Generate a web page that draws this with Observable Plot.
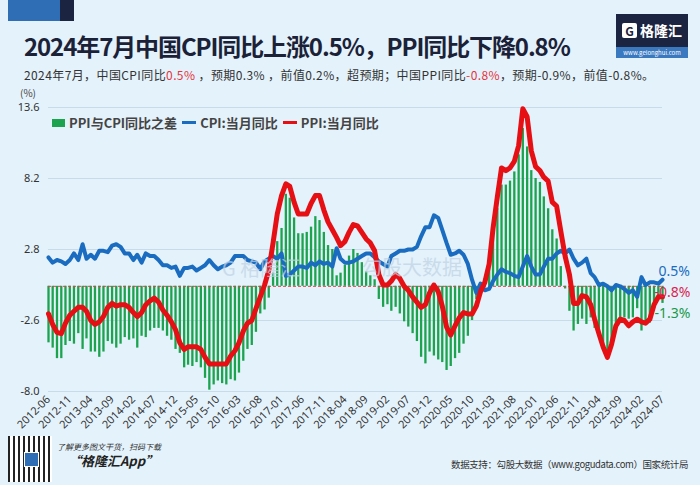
<!DOCTYPE html>
<html>
<head>
<meta charset="utf-8">
<script src="https://cdn.jsdelivr.net/npm/d3@7"></script>
<script src="https://cdn.jsdelivr.net/npm/@observablehq/plot@0.6"></script>
<style>
  html, body { margin:0; padding:0; }
  body { width:700px; height:485px; background:#e4f2fb; position:relative; overflow:hidden;
         font-family:"Noto Sans CJK SC","Noto Sans",sans-serif; color:#333; }
  .abs { position:absolute; white-space:nowrap; }
  #title { left:24px; top:28px; font-size:24px; font-weight:700; color:#1b2238; letter-spacing:-1.1px; }
  #sub { left:24px; top:66px; font-size:12px; color:#333; letter-spacing:0.4px; }
  #sub .r { color:#e8323c; }
  #unit { left:20px; top:85px; font-size:10px; color:#444; }
  #chart { position:absolute; left:0; top:100px; }
  #legend { left:52px; top:113px; font-size:13px; font-weight:700; color:#444; display:flex; align-items:center; }
  #legend .sw { display:inline-block; margin-right:4px; }
  #legend .it { display:flex; align-items:center; margin-right:5px; }
  .wm { color:#bfd2e4; opacity:0.7; font-size:20px; }
</style>
</head>
<body>
<div class="abs" style="left:8px;top:0;width:52px;height:21px;background:#2f6db5"></div>
<div class="abs" style="left:60px;top:0;width:14px;height:21px;background:#1b2440"></div>
<div class="abs" style="left:616px;top:14px;width:72px;height:44px;background:#1b2440">
  <div style="position:absolute;left:0;top:6px;width:72px;text-align:center;color:#fff;font-weight:700;font-size:14px;">
    <span style="display:inline-block;background:#fff;color:#1b2440;font-size:12px;line-height:15px;width:15px;border-radius:2px;margin-right:3px;">G</span>格隆汇</div>
  <div style="position:absolute;left:0;bottom:0;width:72px;height:11px;background:#3a78c0;color:#fff;font-size:6px;line-height:11px;text-align:center;">www.gelonghui.com</div>
</div>
<div id="title" class="abs">2024年7月中国CPI同比上涨0.5%，PPI同比下降0.8%</div>
<div id="sub" class="abs">2024年7月，中国CPI同比<span class="r">0.5%</span> ，预期0.3% ，前值0.2%，超预期；中国PPI同比<span class="r">-0.8%</span>，预期-0.9%，前值-0.8%。</div>
<div id="unit" class="abs">(%)</div>
<div id="chart"></div>
<div class="abs wm" style="left:222px;top:253px;">G 格隆汇</div>
<div class="abs wm" style="left:362px;top:252px;">勾股大数据</div>
<div id="legend" class="abs">
  <span class="it"><span class="sw" style="width:13px;height:8px;background:#1ba34e"></span>PPI与CPI同比之差</span>
  <span class="it"><span class="sw" style="width:14px;height:3px;background:#1a6cc0"></span>CPI:当月同比</span>
  <span class="it"><span class="sw" style="width:14px;height:3px;background:#e60f14"></span>PPI:当月同比</span>
</div>
<div class="abs" style="left:8px;top:436px;width:44px;height:46px;background:#fff;
  background-image:repeating-linear-gradient(90deg,#222 0 2px,transparent 2px 5px),repeating-linear-gradient(0deg,#fff 0 2px,transparent 2px 4px);"></div>
<div class="abs" style="left:24px;top:452px;width:13px;height:13px;background:#2f6db5;border:1px solid #fff"></div>
<div class="abs" style="left:57px;top:441px;font-size:8px;font-style:italic;color:#333;">了解更多图文干货，扫码下载</div>
<div class="abs" style="left:68px;top:451px;font-size:13px;font-style:italic;font-weight:700;color:#222;">“格隆汇App”</div>
<div class="abs" style="right:12px;top:457px;font-size:9.5px;color:#333;letter-spacing:-0.4px;">数据支持：勾股大数据（www.gogudata.com）国家统计局</div>
<script>
const startMonth = "2012-06";
const endMonth = "2024-07";
const cpi = [
  2.2,1.8,2.0,1.9,1.7,2.0,2.5,
  2.0,3.2,2.1,2.4,2.1,2.7,2.7,2.6,3.1,3.2,3.0,2.5,
  2.5,2.0,2.4,1.8,2.5,2.3,2.3,2.0,1.6,1.6,1.4,1.5,
  0.8,1.4,1.4,1.5,1.2,1.4,1.6,2.0,1.6,1.3,1.5,1.6,
  1.8,2.3,2.3,2.3,2.0,1.9,1.8,1.3,1.9,2.1,2.3,2.1,
  2.5,0.8,0.9,1.2,1.5,1.5,1.4,1.8,1.6,1.9,1.7,1.8,
  1.5,2.9,2.1,1.8,1.8,1.9,2.1,2.3,2.5,2.5,2.2,1.9,
  1.7,1.5,2.3,2.5,2.7,2.7,2.8,2.8,3.0,3.8,4.5,4.5,
  5.4,5.2,4.3,3.3,2.4,2.5,2.7,2.4,1.7,0.5,-0.5,0.2,
  -0.3,-0.2,0.4,0.9,1.3,1.1,1.0,0.8,0.7,1.5,2.3,1.5,
  0.9,0.9,1.5,2.1,2.1,2.5,2.7,2.5,2.8,2.1,1.6,1.8,
  2.1,1.0,0.7,0.1,0.2,0.0,-0.3,0.1,0.0,-0.2,-0.5,-0.3,
  -0.8,0.7,0.1,0.3,0.3,0.2,0.5
];
const ppi = [
  -2.1,-2.9,-3.5,-3.6,-2.8,-2.2,-1.9,
  -1.6,-1.6,-1.9,-2.6,-2.9,-2.7,-2.3,-1.6,-1.3,-1.5,-1.4,-1.4,
  -1.6,-2.0,-2.3,-2.0,-1.4,-1.1,-0.9,-1.2,-1.8,-2.2,-2.7,-3.3,
  -4.3,-4.8,-4.6,-4.6,-4.6,-4.8,-5.4,-5.9,-5.9,-5.9,-5.9,-5.9,
  -5.3,-4.9,-4.3,-3.4,-2.8,-2.6,-1.7,-0.8,0.1,1.2,3.3,5.5,
  6.9,7.8,7.6,6.4,5.5,5.5,5.5,6.3,6.9,6.9,5.8,4.9,
  4.3,3.7,3.1,3.4,4.1,4.7,4.6,4.1,3.6,3.3,2.7,0.9,
  0.1,0.1,0.4,0.9,0.6,0.0,-0.3,-0.8,-1.2,-1.6,-1.4,-0.5,
  0.1,-0.4,-1.5,-3.1,-3.7,-3.0,-2.4,-2.0,-2.1,-2.1,-1.5,-0.4,
  0.3,1.7,4.4,6.8,9.0,8.8,9.0,9.5,10.7,13.5,12.9,10.3,
  9.1,8.8,8.3,8.0,6.4,6.1,4.2,2.3,0.9,-1.3,-1.3,-0.7,
  -0.8,-1.4,-2.5,-3.6,-4.6,-5.4,-4.4,-3.0,-2.5,-2.6,-3.0,-2.7,
  -2.5,-2.7,-2.8,-2.5,-1.4,-0.8,-0.8
];
const diff = [
  -4.3,-4.7,-5.5,-5.5,-4.5,-4.2,-4.4,
  -3.6,-4.8,-4.0,-5.0,-5.0,-5.4,-5.0,-4.2,-4.4,-4.7,-4.4,-3.9,
  -4.1,-4.0,-4.7,-3.8,-3.9,-3.4,-3.2,-3.2,-3.4,-3.8,-4.1,-4.8,
  -5.1,-6.2,-6.0,-6.1,-5.8,-6.2,-7.0,-7.9,-7.5,-7.2,-7.4,-7.5,
  -7.1,-7.2,-6.6,-5.7,-4.8,-4.5,-3.5,-2.1,-1.8,-0.9,1.0,3.4,
  4.4,7.0,6.7,5.2,4.0,4.0,4.1,4.5,5.3,5.0,4.1,3.1,
  2.8,0.8,1.0,1.6,2.3,2.8,2.5,1.8,1.1,0.8,0.5,-1.0,
  -1.6,-1.4,-1.9,-1.6,-2.1,-2.7,-3.1,-3.6,-4.2,-5.4,-5.9,-5.0,
  -5.3,-5.6,-5.8,-6.4,-6.1,-5.5,-5.1,-4.4,-3.8,-2.6,-1.0,-0.6,
  0.6,1.9,4.0,5.9,7.7,7.7,8.0,8.7,10.0,12.0,10.6,8.8,
  8.2,7.9,6.8,5.9,4.3,3.6,1.5,-0.2,-1.9,-3.4,-2.9,-2.5,
  -2.9,-2.4,-3.2,-3.7,-4.8,-5.4,-4.1,-3.1,-2.5,-2.4,-2.5,-2.4,
  -1.7,-3.4,-2.9,-2.8,-1.7,-1.0,-1.3
];
const yTicks = [-8.0, -2.6, 2.8, 8.2, 13.6];
const xTickLabels = ["2012-06","2012-11","2013-04","2013-09","2014-02","2014-07","2014-12","2015-05","2015-10","2016-03","2016-08","2017-01","2017-06","2017-11","2018-04","2018-09","2019-02","2019-07","2019-12","2020-05","2020-10","2021-03","2021-08","2022-01","2022-06","2022-11","2023-04","2023-09","2024-02","2024-07"];

const parseM = d3.utcParse("%Y-%m");
const months = d3.utcMonth.range(parseM(startMonth), d3.utcMonth.offset(parseM(endMonth), 1));
const rows = months.map((date, i) => ({date, cpi: cpi[i], ppi: ppi[i], diff: diff[i]}));
const last = [rows[rows.length - 1]];
const fmt = v => v.toFixed(1) + "%";

const chart = Plot.plot({
  width: 700, height: 350,
  marginLeft: 48, marginRight: 38, marginTop: 7, marginBottom: 59,
  style: {background: "transparent", fontFamily: "'Noto Sans', 'Noto Sans CJK SC', sans-serif", fontSize: "10.5px", color: "#333", overflow: "visible"},
  x: {type: "utc", domain: [months[0], months[months.length - 1]]},
  y: {domain: [-8, 13.6]},
  marks: [
    Plot.ruleY(yTicks, {stroke: "#c9dbe9", strokeWidth: 1}),
    Plot.ruleX(rows, {x: "date", y1: 0, y2: "diff", stroke: "#1ba34e", strokeWidth: 2.3}),
    Plot.ruleY([0], {stroke: "#d64545", strokeDasharray: "3,2", strokeWidth: 1}),
    Plot.lineY(rows, {x: "date", y: "cpi", stroke: "#1a6cc0", strokeWidth: 4, strokeLinejoin: "round"}),
    Plot.lineY(rows, {x: "date", y: "ppi", stroke: "#e60f14", strokeWidth: 5, strokeLinejoin: "round"}),
    Plot.axisY({ticks: yTicks, tickFormat: d => d.toFixed(1), tickSize: 0, tickPadding: 9, fontSize: 11, label: null}),
    Plot.axisX({ticks: xTickLabels.map(parseM), tickFormat: d3.utcFormat("%Y-%m"), tickRotate: -45, tickSize: 0, tickPadding: 6, fontSize: 11, label: null}),
    Plot.text(last, {x: "date", y: "cpi", text: d => fmt(d.cpi), fill: "#1a6cc0", dx: -4, dy: -8, textAnchor: "start", fontSize: 14}),
    Plot.text(last, {x: "date", y: "ppi", text: d => fmt(d.ppi), fill: "#dd1f4f", dx: -8, dy: -4, textAnchor: "start", fontSize: 14}),
    Plot.text(last, {x: "date", y: "diff", text: d => fmt(d.diff), fill: "#1a9a48", dx: -8, dy: 10, textAnchor: "start", fontSize: 14})
  ]
});
document.getElementById("chart").appendChild(chart);
</script>
</body>
</html>
